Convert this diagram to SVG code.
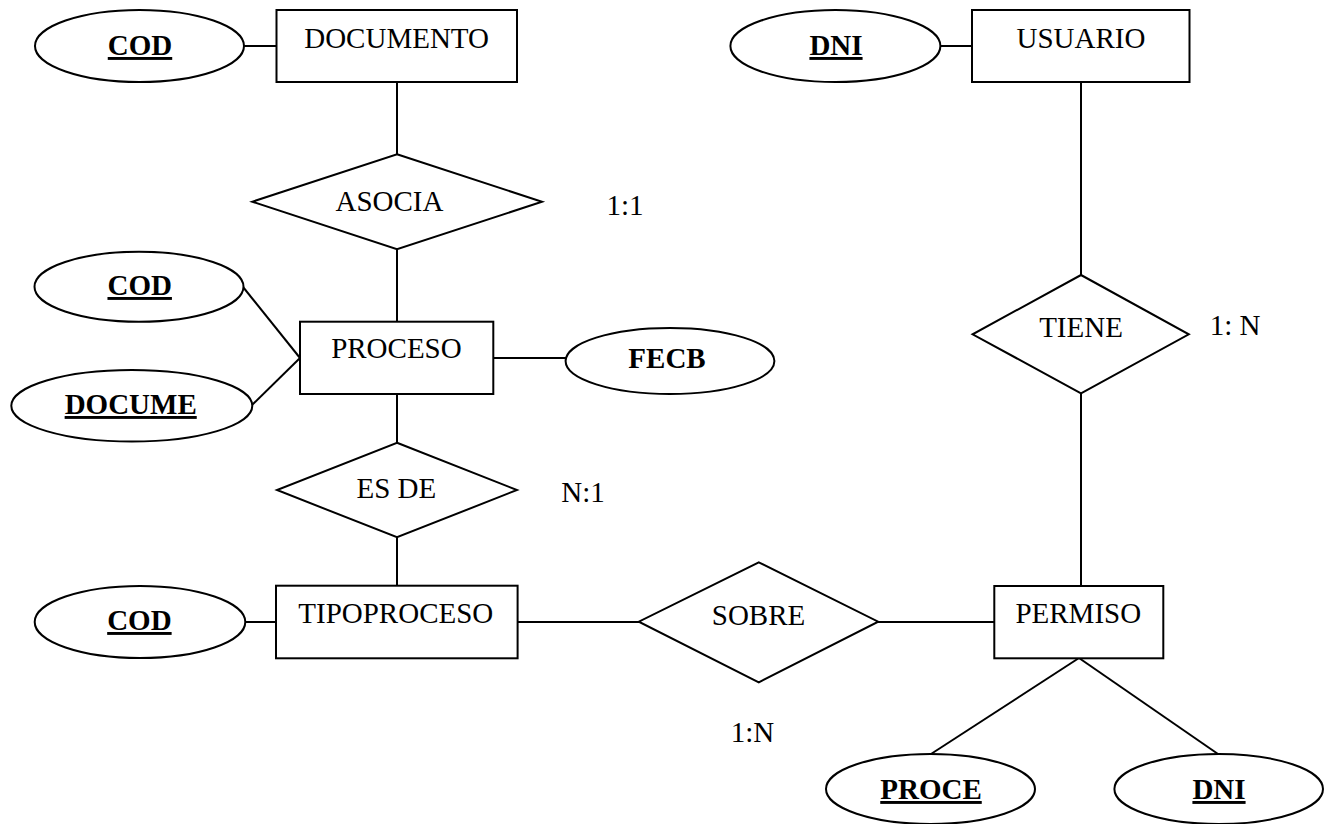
<svg xmlns="http://www.w3.org/2000/svg" width="1335" height="824" viewBox="0 0 1335 824">
<style>
.s{fill:#fff;stroke:#000;stroke-width:2}
.c line{stroke:#000;stroke-width:2}
text{font-family:"Liberation Serif","Times New Roman",serif;font-size:29px;fill:#000;text-anchor:middle}
.k{font-weight:bold;text-decoration:underline}
.b{font-weight:bold}
</style>
<rect width="1335" height="824" fill="#fff"/>
<g class="c" id="connectors">
<line x1="244" y1="46" x2="276" y2="46"/>
<line x1="397" y1="82" x2="397" y2="154"/>
<line x1="397" y1="249" x2="397" y2="322"/>
<line x1="940" y1="46" x2="972" y2="46"/>
<line x1="1081" y1="82" x2="1081" y2="275"/>
<line x1="1081" y1="393" x2="1081" y2="586"/>
<line x1="243" y1="287" x2="300" y2="358"/>
<line x1="252" y1="405" x2="300" y2="358"/>
<line x1="493" y1="358" x2="566" y2="358"/>
<line x1="397" y1="394" x2="397" y2="443"/>
<line x1="397" y1="537" x2="397" y2="586"/>
<line x1="245" y1="622" x2="276" y2="622"/>
<line x1="518" y1="622" x2="639" y2="622"/>
<line x1="878" y1="622" x2="994" y2="622"/>
<line x1="1079" y1="658" x2="931" y2="754"/>
<line x1="1079" y1="658" x2="1218" y2="754"/>
</g>
<g id="documento"><rect class="s" x="276.5" y="10" width="240.5" height="72"/><text x="396.6" y="47.7">DOCUMENTO</text></g>
<g id="doc-cod"><ellipse class="s" cx="139.5" cy="46" rx="104.5" ry="36"/><text class="k" x="140" y="55">COD</text></g>
<g id="usuario"><rect class="s" x="972" y="10" width="217.5" height="72"/><text x="1081" y="48.3">USUARIO</text></g>
<g id="usu-dni"><ellipse class="s" cx="835.4" cy="46" rx="105" ry="36"/><text class="k" x="836" y="55">DNI</text></g>
<g id="asocia"><polygon class="s" points="397,154.3 542,201.7 397,249.3 252.3,201.7"/><text x="389.5" y="210.7">ASOCIA</text></g>
<g id="card-asocia"><text x="625" y="215">1:1</text></g>
<g id="tiene"><polygon class="s" points="1081,275 1188.8,334.3 1081,393.3 972.6,334.3"/><text x="1081" y="336.7">TIENE</text></g>
<g id="card-tiene"><text x="1235" y="335">1: N</text></g>
<g id="proceso"><rect class="s" x="300" y="321.7" width="193.3" height="72.3"/><text x="396.4" y="358.3">PROCESO</text></g>
<g id="pro-cod"><ellipse class="s" cx="139" cy="286.7" rx="104.5" ry="35"/><text class="k" x="139.7" y="295">COD</text></g>
<g id="pro-docume"><ellipse class="s" cx="131.8" cy="405.8" rx="120.5" ry="35.8"/><text class="k" x="130.7" y="414">DOCUME</text></g>
<g id="pro-fecb"><ellipse class="s" cx="670" cy="361" rx="104.4" ry="33"/><text class="b" x="667" y="368">FECB</text></g>
<g id="esde"><polygon class="s" points="397,442.7 517,490 397,537.3 277,490"/><text x="396.4" y="498.3">ES DE</text></g>
<g id="card-esde"><text x="583" y="501.7">N:1</text></g>
<g id="tipoproceso"><rect class="s" x="276" y="585.7" width="241.6" height="72.6"/><text x="395.8" y="623.3">TIPOPROCESO</text></g>
<g id="tip-cod"><ellipse class="s" cx="140" cy="622" rx="105.3" ry="36"/><text class="k" x="139.4" y="630">COD</text></g>
<g id="sobre"><polygon class="s" points="758.8,562.3 878.2,621.7 758.8,682.3 638.8,621.7"/><text x="758.5" y="625">SOBRE</text></g>
<g id="card-sobre"><text x="752.5" y="741.7">1:N</text></g>
<g id="permiso"><rect class="s" x="994.3" y="586" width="169" height="72.3"/><text x="1078.3" y="623.3">PERMISO</text></g>
<g id="per-proce"><ellipse class="s" cx="930.5" cy="789" rx="104.5" ry="35"/><text class="k" x="931" y="799">PROCE</text></g>
<g id="per-dni"><ellipse class="s" cx="1218.7" cy="789" rx="104.3" ry="35"/><text class="k" x="1219" y="799">DNI</text></g>
</svg>
